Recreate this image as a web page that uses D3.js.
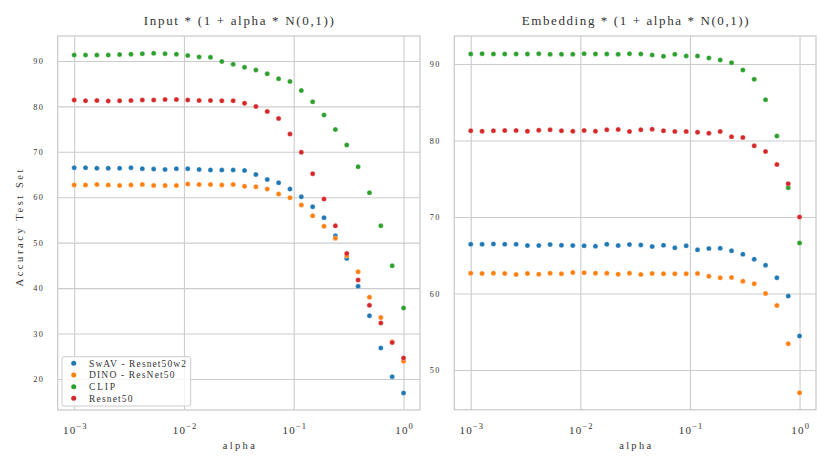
<!DOCTYPE html>
<html>
<head>
<meta charset="utf-8">
<script src="https://cdn.jsdelivr.net/npm/d3@7"></script>
<style>
    body { margin: 0; background: #fff; }
    text { font-family: "Liberation Serif", "DejaVu Serif", serif; fill: #333; }
</style>
</head>
<body>
<svg id="chart" width="831" height="468"></svg>
<script>
    // alpha values (30 points, 10^-3 .. 10^0)
    const alphas = [0.001, 0.001269, 0.001610, 0.002043, 0.002593, 0.003290, 0.004175, 0.005298,
        0.006723, 0.008532, 0.010826, 0.013738, 0.017433, 0.022122, 0.028072, 0.035622,
        0.045204, 0.057362, 0.072790, 0.092367, 0.11721, 0.14874, 0.18874, 0.23950,
        0.30392, 0.38566, 0.48939, 0.62102, 0.78805, 1.0];

    const seriesNames = ["SwAV - Resnet50w2", "DINO - ResNet50", "CLIP", "Resnet50"];
    const seriesColors = ["#1f77b4", "#ff7f0e", "#2ca02c", "#d62728"];
    const legendWidths = [97, 85.5, 26, 43.5];

    // Input * (1 + alpha * N(0,1))
    const inputSwav = [66.5, 66.5, 66.4, 66.4, 66.4, 66.5, 66.3, 66.2, 66.1, 66.3, 66.3, 66.1, 66.0, 66.0, 66.0, 65.9,
        65.0, 63.9, 63.2, 61.8, 60.1, 57.9, 55.5, 51.5, 46.5, 40.4, 33.9, 26.8, 20.5, 16.9];
    const inputDino = [62.7, 62.7, 62.8, 62.7, 62.6, 62.7, 62.8, 62.6, 62.6, 62.6, 62.9, 62.8, 62.8, 62.7, 62.8, 62.4,
        62.3, 61.8, 60.7, 59.9, 58.3, 55.9, 53.6, 51.0, 47.1, 43.6, 38.0, 33.5, 28.2, 23.9];
    const inputClip = [91.3, 91.3, 91.3, 91.3, 91.4, 91.5, 91.6, 91.7, 91.6, 91.5, 91.2, 90.9, 90.8, 89.9, 89.3, 88.6,
        88.0, 87.2, 86.1, 85.5, 83.5, 81.0, 78.1, 74.9, 71.5, 66.7, 61.0, 53.7, 44.9, 35.6];
    const inputResnet = [81.4, 81.25, 81.3, 81.2, 81.25, 81.3, 81.4, 81.4, 81.5, 81.5, 81.4, 81.3, 81.3, 81.25, 81.25, 80.7,
        80.0, 78.9, 77.35, 73.9, 69.9, 65.2, 59.6, 53.7, 47.6, 41.8, 36.2, 32.3, 28.0, 24.6];

    // Embedding * (1 + alpha * N(0,1))
    const embSwav = [66.43, 66.43, 66.48, 66.43, 66.43, 66.26, 66.26, 66.39, 66.30, 66.26, 66.22, 66.17, 66.43, 66.26, 66.39, 66.35,
        66.13, 66.30, 65.96, 66.22, 65.70, 65.87, 65.91, 65.57, 65.13, 64.48, 63.70, 62.04, 59.65, 54.43];
    const embDino = [62.65, 62.61, 62.65, 62.61, 62.48, 62.61, 62.52, 62.65, 62.57, 62.74, 62.70, 62.65, 62.65, 62.52, 62.65, 62.48,
        62.61, 62.57, 62.57, 62.57, 62.61, 62.26, 62.04, 62.09, 61.61, 61.26, 60.0, 58.43, 53.43, 47.0];
    const embClip = [91.31, 91.35, 91.31, 91.31, 91.31, 91.31, 91.35, 91.27, 91.27, 91.27, 91.35, 91.31, 91.31, 91.27, 91.35, 91.31,
        91.18, 91.0, 91.27, 91.05, 91.05, 90.79, 90.52, 90.17, 89.21, 87.99, 85.33, 80.57, 73.83, 66.6];
    const embResnet = [81.27, 81.22, 81.27, 81.31, 81.31, 81.22, 81.35, 81.40, 81.27, 81.22, 81.31, 81.22, 81.40, 81.44, 81.18, 81.40,
        81.48, 81.27, 81.18, 81.18, 81.09, 80.96, 81.18, 80.48, 80.39, 79.30, 78.56, 76.87, 74.35, 70.0];

    const xTicks = [1e-3, 1e-2, 1e-1, 1];
    const xTickExp = ["\u22123", "\u22122", "\u22121", "0"];
    const inputYTicks = [20, 30, 40, 50, 60, 70, 80, 90];
    const embYTicks = [50, 60, 70, 80, 90];

    const svg = d3.select("#chart");
    const gridColor = "#cccccc";

    const panels = [
        {
            title: "Input * (1 + alpha * N(0,1))", titleWidth: 190,
            left: 57.7, right: 420, top: 36, bottom: 410,
            yDomain: [13.16, 95.5], yTicks: inputYTicks,
            series: [inputSwav, inputDino, inputClip, inputResnet],
            ylabel: "Accuracy Test Set", legend: true
        },
        {
            title: "Embedding * (1 + alpha * N(0,1))", titleWidth: 227,
            left: 454.3, right: 816, top: 36, bottom: 409.7,
            yDomain: [44.8, 93.66], yTicks: embYTicks,
            series: [embSwav, embDino, embClip, embResnet],
            ylabel: null, legend: false
        }
    ];

    panels.forEach(function(p) {
        const x = d3.scaleLog().domain([Math.pow(10, -3.15), Math.pow(10, 0.15)]).range([p.left, p.right]);
        const y = d3.scaleLinear().domain(p.yDomain).range([p.bottom, p.top]);
        const g = svg.append("g");

        // grid
        g.append("g")
            .attr("transform", "translate(0," + p.bottom + ")")
            .call(d3.axisBottom(x).tickValues(xTicks).tickSize(-(p.bottom - p.top)).tickFormat(""))
            .call(a => a.select(".domain").remove())
            .selectAll("line").attr("stroke", gridColor).attr("stroke-width", 1.1);
        g.append("g")
            .attr("transform", "translate(" + p.left + ",0)")
            .call(d3.axisLeft(y).tickValues(p.yTicks).tickSize(-(p.right - p.left)).tickFormat(""))
            .call(a => a.select(".domain").remove())
            .selectAll("line").attr("stroke", gridColor).attr("stroke-width", 1.1);

        // frame
        g.append("rect")
            .attr("x", p.left).attr("y", p.top)
            .attr("width", p.right - p.left).attr("height", p.bottom - p.top)
            .attr("fill", "none").attr("stroke", gridColor).attr("stroke-width", 1.3);

        // y tick labels
        g.selectAll(".ytl").data(p.yTicks).enter().append("text")
            .attr("x", p.left - 13.5).attr("y", d => y(d) + 3.2)
            .attr("text-anchor", "end")
            .style("font-size", "8.2px").style("letter-spacing", "1.4px")
            .text(d => d);

        // x tick labels
        const xt = g.selectAll(".xtl").data(xTicks).enter().append("text")
            .attr("x", d => x(d) + 1).attr("y", p.bottom + 24)
            .attr("text-anchor", "middle")
            .style("font-size", "11px");
        xt.append("tspan").style("letter-spacing", "1.2px").text("10");
        xt.append("tspan").attr("dy", -4.8).style("font-size", "8.5px").style("letter-spacing", "1px")
            .text((d, i) => xTickExp[i]);

        // x label
        g.append("text")
            .attr("x", (p.left + p.right) / 2).attr("y", p.bottom + 39)
            .attr("text-anchor", "middle")
            .attr("textLength", 32).attr("lengthAdjust", "spacing")
            .style("font-size", "10.5px")
            .text("alpha");

        // title
        g.append("text")
            .attr("x", (p.left + p.right) / 2).attr("y", 24.5)
            .attr("text-anchor", "middle")
            .attr("textLength", p.titleWidth).attr("lengthAdjust", "spacing")
            .style("font-size", "13px")
            .text(p.title);

        if (p.ylabel) {
            g.append("text")
                .attr("transform", "translate(23," + ((p.top + p.bottom) / 2 + 5) + ") rotate(-90)")
                .attr("text-anchor", "middle")
                .attr("textLength", 117).attr("lengthAdjust", "spacing")
                .style("font-size", "10.5px")
                .text(p.ylabel);
        }

        // points
        p.series.forEach(function(vals, si) {
            g.append("g").selectAll("circle").data(vals).enter().append("circle")
                .attr("cx", (d, i) => x(alphas[i]))
                .attr("cy", d => y(d))
                .attr("r", 2.5)
                .attr("fill", seriesColors[si])
                .attr("stroke", "#fff").attr("stroke-width", 0.3);
        });

        if (p.legend) {
            const lg = g.append("g");
            lg.append("rect")
                .attr("x", 62).attr("y", 356.7).attr("width", 128.7).attr("height", 49.3)
                .attr("rx", 2).attr("fill", "#fff").attr("fill-opacity", 0.8)
                .attr("stroke", gridColor).attr("stroke-width", 1);
            seriesNames.forEach(function(name, i) {
                const yy = 363.3 + i * 11.67;
                lg.append("circle").attr("cx", 73.7).attr("cy", yy).attr("r", 2.5).attr("fill", seriesColors[i]);
                lg.append("text").attr("x", 89).attr("y", yy + 3.3)
                    .attr("textLength", legendWidths[i]).attr("lengthAdjust", "spacing")
                    .style("font-size", "9.5px")
                    .text(name);
            });
        }
    });
</script>
</body>
</html>
